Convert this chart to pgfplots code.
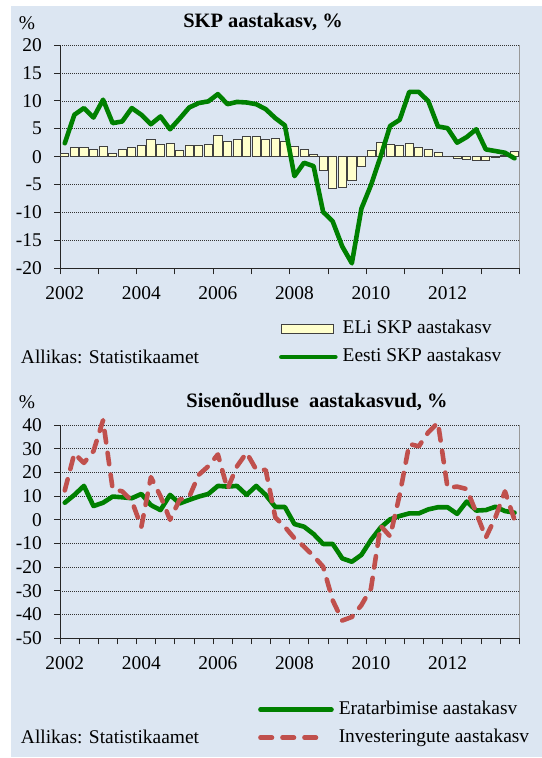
\documentclass[border=0pt]{standalone}
\usepackage{fontspec}
\setmainfont{Liberation Serif}
\usepackage{pgfplots}
\pgfplotsset{compat=1.18}
\usepackage{pgfplotstable}
\definecolor{panel}{HTML}{DCE6F2}
\definecolor{gdpgreen}{HTML}{008000}
\definecolor{invred}{HTML}{C0504D}
\definecolor{baryellow}{HTML}{FFFFCC}

% quarterly data 2002Q1 ... 2013Q4, plotted at quarter centres (q = index + 0.5)
\pgfplotstableread{
q eu ee
0.5 0.5 2.4
1.5 1.6 7.5
2.5 1.7 8.7
3.5 1.25 7.0
4.5 1.85 10.2
5.5 0.55 6.0
6.5 1.25 6.3
7.5 1.7 8.7
8.5 2.0 7.5
9.5 3.0 5.8
10.5 2.2 7.2
11.5 2.4 4.9
12.5 1.1 6.8
13.5 2.1 8.8
14.5 2.1 9.6
15.5 2.2 9.9
16.5 3.75 11.2
17.5 2.75 9.4
18.5 3.05 9.8
19.5 3.65 9.7
20.5 3.6 9.4
21.5 3.05 8.5
22.5 3.2 6.9
23.5 2.75 5.6
24.5 1.9 -3.5
25.5 1.3 -1.1
26.5 0.4 -1.7
27.5 -2.4 -9.9
28.5 -5.6 -11.6
29.5 -5.5 -16.1
30.5 -4.2 -19.1
31.5 -1.8 -9.3
32.5 1.2 -5.1
33.5 2.5 0.0
34.5 2.2 5.5
35.5 2.0 6.6
36.5 2.4 11.6
37.5 1.7 11.6
38.5 1.3 9.9
39.5 0.8 5.4
40.5 0.1 5.1
41.5 -0.3 2.5
42.5 -0.45 3.5
43.5 -0.65 4.9
44.5 -0.65 1.3
45.5 -0.15 1.0
46.5 0.2 0.7
47.5 1.0 -0.3
}\gdptable

\pgfplotstableread{
q cons inv
0.5 7.2 12.4
1.5 10.5 28
2.5 14.3 24
3.5 5.8 29
4.5 7.2 42
5.5 9.8 13
6.5 9.5 12
7.5 9.1 8
8.5 10.9 -3
9.5 6.2 18
10.5 4.1 10
11.5 10.5 0
12.5 6.9 8.5
13.5 8.4 9.6
14.5 9.8 19
15.5 10.9 22.6
16.5 14.3 27.6
17.5 14.0 13
18.5 14.3 22.6
19.5 10.5 28.3
20.5 14.3 21.2
21.5 10.5 21
22.5 5.4 1
23.5 5.4 -3
24.5 -1.8 -7.8
25.5 -2.9 -11.3
26.5 -6.0 -15.3
27.5 -10.2 -19.8
28.5 -10.2 -34
29.5 -16.3 -42.5
30.5 -17.7 -41
31.5 -14.8 -36
32.5 -8.5 -29
33.5 -3.3 -2.5
34.5 0.2 -7
35.5 1.6 10.6
36.5 2.7 32
37.5 2.7 31
38.5 4.4 37
39.5 5.3 41
40.5 5.3 13.5
41.5 2.5 14
42.5 7.7 13
43.5 3.9 3
44.5 4.1 -7.5
45.5 5.5 1
46.5 3.7 12
47.5 3.0 0
}\demandtable

\newcommand{\txt}{\fontsize{19.5}{22}\selectfont}

\pgfplotsset{
  legline/.style={legend image code/.code={\draw[##1] (0bp,0bp) -- (#1,0bp);}},
  legbox/.style={legend image code/.code={\draw[fill=baryellow, draw=black!75, line width=0.8bp] (0bp,-4.5bp) rectangle (#1,4.5bp);}},
  panelaxis/.style={
    scale only axis, width=459.3bp,
    xmin=0, xmax=48, clip=false,
    axis lines*=left,
    axis line style={black!85, line width=0.8bp},
    tick align=outside, major tick length=6bp,
    tick style={black!85, line width=0.8bp},
    ymajorgrids,
    grid style={black!80, dash pattern=on 1bp off 1bp, line width=0.6bp},
    xticklabels={},
    extra x ticks={0.5,8.5,16.5,24.5,32.5,40.5},
    extra x tick labels={2002,2004,2006,2008,2010,2012},
    extra x tick style={major tick length=0pt, grid=none,
      xticklabel style={anchor=north, inner sep=0pt, yshift=-18bp}},
    yticklabel style={anchor=east, inner xsep=0pt, xshift=-12bp},
    tick label style={font=\txt},
    /pgf/number format/assume math mode=true,
    legend cell align=left,
    legend style={draw=none, fill=none, inner sep=0pt, font=\txt,
      column sep=5bp, row sep=11bp,
      nodes={inner sep=0pt, text height=13bp, text depth=4bp}},
  }
}

\begin{document}
\begin{tikzpicture}[x=1bp,y=1bp]
\fill[white] (0,0) rectangle (542,758);
\fill[panel] (11,1) rectangle (542,752);

% ---------- top chart ----------
\node[font=\txt] at (27,735.3) {\%};
\node[font=\bfseries\fontsize{20.5}{23}\selectfont] at (263,736.3) {SKP aastakasv, \%};
\node[font=\txt, anchor=base west, inner sep=0pt] at (20.8,394) {Allikas: Statistikaamet};

\begin{axis}[panelaxis,
  at={(60bp,489.7bp)}, anchor=south west, height=223.3bp,
  ymin=-20, ymax=20,
  ytick={-20,-15,...,20},
  yticklabels={-20,-15,-10,-5,0,5,10,15,20},
  xtick={0,4,...,48},
  legend style={at={(axis description cs:0.4765,-0.335)}, anchor=west},
]
\addplot[ybar, bar width=0.85, fill=baryellow, draw=black!75, line width=0.8bp, legbox=52bp]
  table[x=q, y=eu] {\gdptable};
\addlegendentry{ELi SKP aastakasv}
\addplot[gdpgreen, line width=4.6bp, line join=round, line cap=round, legline=54bp]
  table[x=q, y=ee] {\gdptable};
\addlegendentry{Eesti SKP aastakasv}
\draw[black!40, line width=0.8bp] (rel axis cs:1,0) -- (rel axis cs:1,1);
\end{axis}

% ---------- bottom chart ----------
\node[font=\txt] at (27,356.3) {\%};
\node[font=\bfseries\fontsize{20.5}{23}\selectfont] at (317,356.3) {Sisenõudluse\ \ aastakasvud, \%};
\node[font=\txt, anchor=base west, inner sep=0pt] at (20.8,14) {Allikas: Statistikaamet};

\begin{axis}[panelaxis,
  at={(60bp,119.7bp)}, anchor=south west, height=213.3bp,
  ymin=-50, ymax=40,
  ytick={-50,-40,...,40},
  yticklabels={-50,-40,-30,-20,-10,0,10,20,30,40},
  xtick={0,2,...,48},
  legend style={at={(axis description cs:0.431,-0.40)}, anchor=west},
]
\addplot[gdpgreen, line width=4.6bp, line join=round, line cap=round, legline=71bp]
  table[x=q, y=cons] {\demandtable};
\addlegendentry{Eratarbimise aastakasv}
\addplot[invred, line width=4.6bp, line join=round, line cap=round,
  dash pattern=on 11.5bp off 10.5bp, legline=62bp]
  table[x=q, y=inv] {\demandtable};
\addlegendentry{Investeringute aastakasv}
\draw[black!40, line width=0.8bp] (rel axis cs:1,0) -- (rel axis cs:1,1);
\end{axis}
\end{tikzpicture}
\end{document}
